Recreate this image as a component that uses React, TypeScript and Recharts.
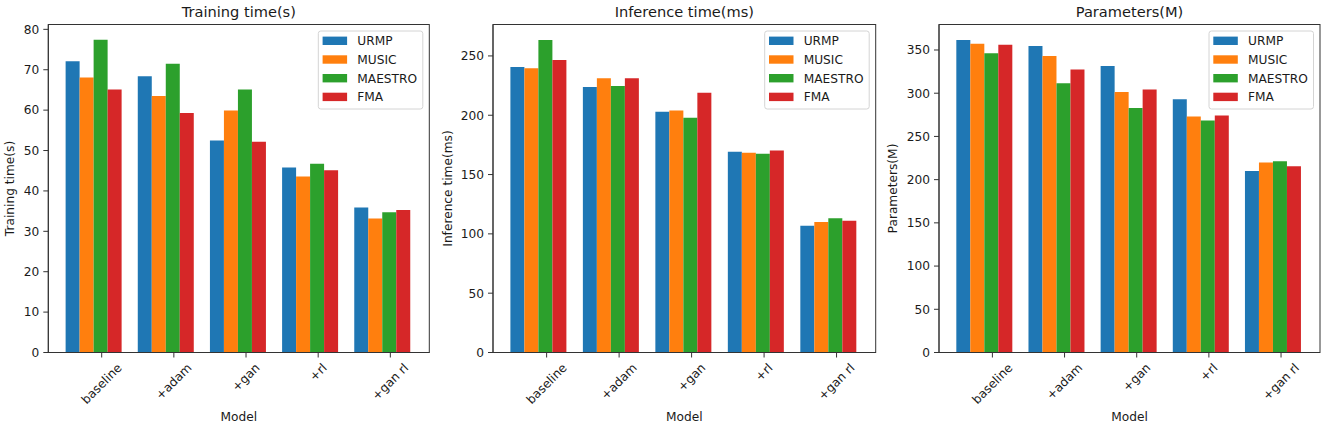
import { BarChart, Bar, XAxis, YAxis } from 'recharts'

const models = ['baseline', '+adam', '+gan', '+rl', '+gan rl']
const datasets = ['URMP', 'MUSIC', 'MAESTRO', 'FMA']
const colors = ['#1f77b4', '#ff7f0e', '#2ca02c', '#d62728']

// Training time (s)
const trainURMP = [72.1, 68.4, 52.5, 45.8, 35.9]
const trainMUSIC = [68.1, 63.5, 59.9, 43.6, 33.2]
const trainMAESTRO = [77.4, 71.5, 65.1, 46.7, 34.7]
const trainFMA = [65.1, 59.3, 52.2, 45.1, 35.3]
const trainTicks = [0, 10, 20, 30, 40, 50, 60, 70, 80]

// Inference time (ms)
const inferURMP = [240.7, 223.9, 202.9, 169.2, 106.9]
const inferMUSIC = [239.6, 231.2, 204.0, 168.4, 110.0]
const inferMAESTRO = [263.5, 224.7, 197.8, 167.5, 113.1]
const inferFMA = [246.6, 231.2, 218.9, 170.3, 111.1]
const inferTicks = [0, 50, 100, 150, 200, 250]

// Parameters (M)
const paramURMP = [361.6, 354.6, 331.5, 293.0, 209.9]
const paramMUSIC = [357.3, 343.1, 301.5, 273.0, 219.9]
const paramMAESTRO = [346.2, 311.5, 283.0, 268.4, 221.4]
const paramFMA = [356.2, 327.3, 304.2, 274.2, 215.6]
const paramTicks = [0, 50, 100, 150, 200, 250, 300, 350]

const FONT = '"DejaVu Sans", sans-serif'
const FS = 12.2
const TEXT = '#1a1a1a'
const AXIS = '#333'
const PLOT_TOP = 24.5
const PLOT_BOTTOM = 352.5
const HEIGHT = 426

// rough DejaVu Sans advance widths (em) for the tick labels
const CHAR_W: Record<string, number> = {
  '+': 0.838, a: 0.613, b: 0.635, d: 0.635, e: 0.615, g: 0.635, i: 0.278,
  l: 0.278, m: 0.974, n: 0.634, r: 0.411, s: 0.521, ' ': 0.318,
}
const textWidth = (s: string) =>
  s.split('').reduce((w, c) => w + (CHAR_W[c] ?? 0.6), 0) * FS

function ModelTick(props: any) {
  const { x, y, payload, shift } = props
  const tx = x + shift
  const half = (0.7071 * (textWidth(payload.value) + 0.75 * FS)) / 2
  const cy = y + 5 + half
  return (
    <g>
      <line x1={tx} x2={tx} y1={y - 5} y2={y} stroke={AXIS} strokeWidth={1} />
      <text
        x={tx}
        y={cy}
        transform={`rotate(-45 ${tx} ${cy})`}
        textAnchor="middle"
        dominantBaseline="central"
        fontSize={FS}
        fontFamily={FONT}
        fill={TEXT}
      >
        {payload.value}
      </text>
    </g>
  )
}

interface PanelProps {
  title: string
  yLabel: string
  series: number[][]
  ticks: number[]
  yMax: number
  left: number
  width: number
  plotLeft: number
  plotRight: number
  yLabelX: number
}

function Panel({ title, yLabel, series, ticks, yMax, left, width, plotLeft, plotRight, yLabelX }: PanelProps) {
  const data = models.map((m, i) => {
    const row: Record<string, string | number> = { model: m }
    datasets.forEach((d, k) => {
      row[d] = series[k][i]
    })
    return row
  })

  const plotW = plotRight - plotLeft
  const unit = plotW / 5.28
  const pad = unit * 0.14
  const shift = unit * 0.1
  const xAxisH = 40

  // overlay coordinates are local to the panel
  const pl = plotLeft - left
  const pr = plotRight - left
  const cx = (pl + pr) / 2
  const boxW = 104.5
  const boxX = pr - 6.5 - boxW
  const boxY = PLOT_TOP + 6.5

  return (
    <div style={{ position: 'absolute', left, top: 0, width, height: HEIGHT }}>
      <BarChart
        width={width}
        height={HEIGHT}
        data={data}
        barCategoryGap="10%"
        barGap={0}
        margin={{ top: PLOT_TOP, right: width - pr, left: 0, bottom: HEIGHT - PLOT_BOTTOM - xAxisH }}
      >
        <XAxis
          dataKey="model"
          height={xAxisH}
          padding={{ left: pad, right: pad }}
          axisLine={{ stroke: AXIS }}
          tickLine={false}
          tickSize={5}
          tickMargin={0}
          interval={0}
          tick={(p: any) => <ModelTick {...p} shift={shift} />}
        />
        <YAxis
          type="number"
          width={pl}
          domain={[0, yMax]}
          ticks={ticks}
          interval={0}
          axisLine={{ stroke: AXIS }}
          tickLine={{ stroke: AXIS }}
          tickSize={5}
          tickMargin={4}
          tick={{ fill: TEXT, fontSize: FS, fontFamily: FONT }}
        />
        {datasets.map((d, k) => (
          <Bar key={d} dataKey={d} fill={colors[k]} isAnimationActive={false} />
        ))}
      </BarChart>

      <svg
        width={width}
        height={HEIGHT}
        style={{ position: 'absolute', left: 0, top: 0, pointerEvents: 'none' }}
        fontFamily={FONT}
      >
        {/* axes frame (top and right spines) */}
        <rect
          x={pl}
          y={PLOT_TOP}
          width={pr - pl}
          height={PLOT_BOTTOM - PLOT_TOP}
          fill="none"
          stroke={AXIS}
          strokeWidth={1}
        />
        <text x={cx} y={16.5} textAnchor="middle" fontSize={14.6} fill={TEXT}>
          {title}
        </text>
        <text
          x={yLabelX - left}
          y={(PLOT_TOP + PLOT_BOTTOM) / 2}
          transform={`rotate(-90 ${yLabelX - left} ${(PLOT_TOP + PLOT_BOTTOM) / 2})`}
          textAnchor="middle"
          fontSize={FS}
          fill={TEXT}
        >
          {yLabel}
        </text>
        <text x={cx} y={421} textAnchor="middle" fontSize={FS} fill={TEXT}>
          Model
        </text>

        <rect x={boxX} y={boxY} width={boxW} height={78} rx={2.5} fill="#fff" fillOpacity={0.8} stroke="#d4d4d4" />
        {datasets.map((d, k) => {
          const rowY = 40.8 + 18.7 * k
          return (
            <g key={d}>
              <rect x={boxX + 4.3} y={rowY - 4.2} width={24.5} height={8.4} fill={colors[k]} />
              <text x={boxX + 39} y={rowY + 4.4} fontSize={FS} fill={TEXT}>
                {d}
              </text>
            </g>
          )
        })}
      </svg>
    </div>
  )
}

export default function App() {
  return (
    <div style={{ position: 'absolute', left: 0, top: 0, width: 1325, height: HEIGHT, background: '#fff' }}>
      <Panel
        title="Training time(s)"
        yLabel="Training time(s)"
        series={[trainURMP, trainMUSIC, trainMAESTRO, trainFMA]}
        ticks={trainTicks}
        yMax={81.2}
        left={0}
        width={440}
        plotLeft={48.3}
        plotRight={429.3}
        yLabelX={14}
      />
      <Panel
        title="Inference time(ms)"
        yLabel="Inference time(ms)"
        series={[inferURMP, inferMUSIC, inferMAESTRO, inferFMA]}
        ticks={inferTicks}
        yMax={276.5}
        left={440}
        width={440}
        plotLeft={493}
        plotRight={875.7}
        yLabelX={451.5}
      />
      <Panel
        title="Parameters(M)"
        yLabel="Parameters(M)"
        series={[paramURMP, paramMUSIC, paramMAESTRO, paramFMA]}
        ticks={paramTicks}
        yMax={379.5}
        left={880}
        width={445}
        plotLeft={939}
        plotRight={1320}
        yLabelX={897}
      />
    </div>
  )
}
